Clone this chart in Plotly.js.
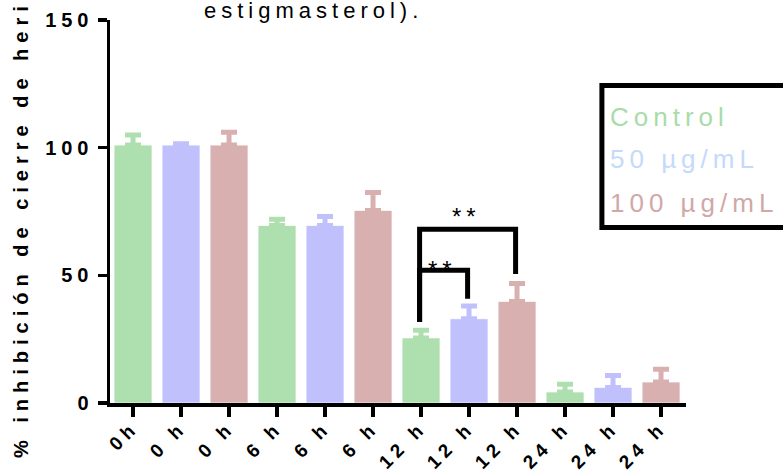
<!DOCTYPE html>
<html>
<head>
<meta charset="utf-8">
<script src="https://cdn.plot.ly/plotly-3.0.1.min.js"></script>
<style>
  html, body { margin: 0; padding: 0; background: #fff; }
  #chart { width: 783px; height: 476px; }
  .xtick text { letter-spacing: 5px; }
  .ytick text { letter-spacing: 5px; }
  .ytitle { letter-spacing: 6px; }
  .annotation-text { letter-spacing: 5px; }
</style>
</head>
<body>
<div id="chart"></div>
<script>
// ---- data ----
const tickLabels = ["0h", "0 h", "0 h", "6 h", "6 h", "6 h", "12 h", "12 h", "12 h", "24 h", "24 h", "24 h"];
const seriesNames = ["Control", "50 µg/mL", "100 µg/mL"];
const controlMean = [101, 69.5, 25.5, 4.3];
const controlErr  = [4, 2.5, 3, 3];
const mean50      = [101, 69.5, 33, 6.1];
const err50       = [0.5, 3.5, 5, 4.7];
const mean100     = [101, 75.4, 39.8, 8.2];
const err100      = [5, 7, 7, 5];
// significance brackets: from bar index, to bar index, bracket height, leg bottoms, label
const bracketFrom   = [6, 6];
const bracketTo     = [7, 8];
const bracketTop    = [52, 68];
const bracketLeftLo = [31.7, 31.7];
const bracketRightLo= [40.8, 50.5];
const bracketLabel  = ["**", "**"];
const bracketLabelY = [52.3, 73];
const titleTail = "estigmasterol).";
const yTitle = "% inhibición de cierre de herida";

// ---- styles ----
const FONT = 'Liberation Sans, Arial, sans-serif';
const barColors = ["#AEDFAE", "#C0C0FD", "#D8B0B0"];
const legendColors = ["#A8DCA8", "#C4DAFA", "#D0A8A8"];
const means = [controlMean, mean50, mean100];
const errs = [controlErr, err50, err100];
const nSeries = 3;

const traces = means.map((m, s) => ({
  type: 'bar',
  name: seriesNames[s],
  x: m.map((_, g) => g * nSeries + s),
  y: m,
  width: 0.79,
  marker: { color: barColors[s], line: { color: 'rgba(255,255,255,0.7)', width: 1 } },
  error_y: {
    type: 'data', symmetric: false,
    array: errs[s], arrayminus: m.map(() => 0),
    color: barColors[s], thickness: 5, width: 8
  },
  showlegend: false,
  hoverinfo: 'skip'
}));

const shapes = [];
const annotations = [];
bracketFrom.forEach((f, i) => {
  const t = bracketTo[i];
  shapes.push({
    type: 'path', xref: 'x', yref: 'y',
    path: `M ${f - 0.03},${bracketLeftLo[i]} L ${f - 0.03},${bracketTop[i]} L ${t - 0.03},${bracketTop[i]} L ${t - 0.03},${bracketRightLo[i]}`,
    line: { color: '#000', width: 5 }
  });
  annotations.push({
    xref: 'x', yref: 'y', x: (f + t) / 2 - 0.06, y: bracketLabelY[i],
    text: bracketLabel[i], showarrow: false,
    font: { family: FONT, size: 24, color: '#000' }
  });
});

// legend box (clipped at the right edge like the reference)
shapes.push({
  type: 'rect', xref: 'paper', yref: 'paper',
  x0: 0.854, x1: 1.25, y0: 0.458, y1: 0.829,
  line: { color: '#000', width: 5 }, fillcolor: 'rgba(0,0,0,0)'
});
const legendY = [0.747, 0.638, 0.523];
seriesNames.forEach((n, i) => {
  annotations.push({
    xref: 'paper', yref: 'paper', x: 0.864, y: legendY[i],
    xanchor: 'left', yanchor: 'middle', text: n, showarrow: false,
    font: { family: FONT, size: 26, color: legendColors[i] }
  });
});

// partial title at top
annotations.push({
  xref: 'paper', yref: 'paper', x: 0.354, y: 1.025, xanchor: 'center', yanchor: 'middle',
  text: titleTail, showarrow: false,
  font: { family: FONT, size: 22, color: '#000' }
});

const layout = {
  width: 783, height: 476,
  margin: { l: 110, r: 97, t: 20, b: 73 },
  paper_bgcolor: '#fff', plot_bgcolor: '#fff',
  barmode: 'overlay',
  showlegend: false,
  font: { family: FONT, color: '#000' },
  xaxis: {
    range: [-0.48, 11.52],
    tickmode: 'array',
    tickvals: tickLabels.map((_, i) => i),
    ticktext: tickLabels,
    tickangle: -45,
    ticks: 'outside', ticklen: 10, tickwidth: 3.5, tickcolor: '#000',
    ticklabelstandoff: -8,
    showline: true, linecolor: '#000', linewidth: 4,
    showgrid: false, zeroline: false,
    tickfont: { family: FONT, size: 19, weight: 'bold', color: '#000' }
  },
  yaxis: {
    range: [0, 150],
    tickmode: 'array', tickvals: [0, 50, 100, 150],
    ticks: 'outside', ticklen: 9, tickwidth: 3.5, tickcolor: '#000',
    showline: true, linecolor: '#000', linewidth: 3.5,
    showgrid: false, zeroline: false,
    tickfont: { family: FONT, size: 20, weight: 'bold', color: '#000' },
    title: { text: yTitle, standoff: 12,
      font: { family: FONT, size: 20, weight: 'bold', color: '#000' } }
  },
  shapes: shapes,
  annotations: annotations
};

Plotly.newPlot('chart', traces, layout, { displayModeBar: false, staticPlot: true });
</script>
</body>
</html>
